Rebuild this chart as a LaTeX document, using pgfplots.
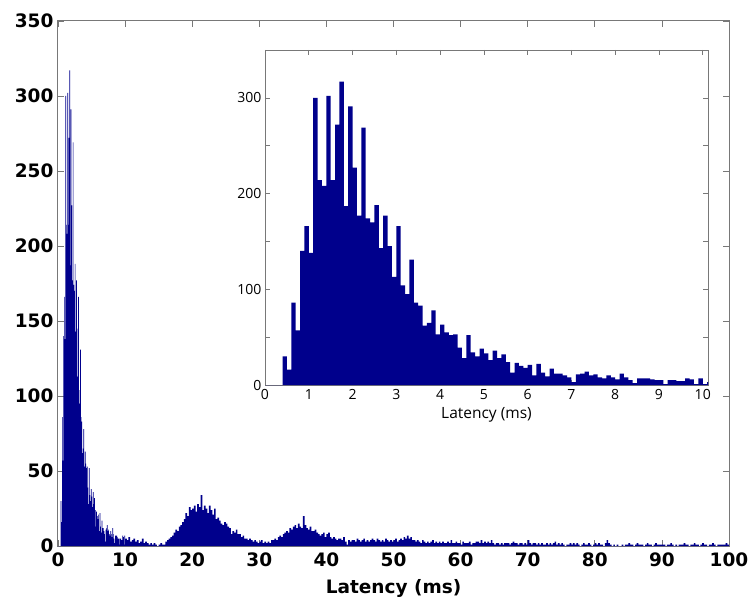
\documentclass[border=0pt]{standalone}
\usepackage{pgfplots}
\pgfplotsset{compat=1.18}
\usepackage{pgfplotstable}
\usepackage{fontspec}
\newfontfamily\mainf{DejaVu Sans}
\newfontfamily\insetf{Open Sans}
\definecolor{histblue}{RGB}{0,0,140}
\definecolor{axgray}{RGB}{120,120,120}

\pgfplotstableread{
x y
0.0 0
0.1 0
0.2 0
0.3 0
0.4 30
0.5 16
0.6 86
0.7 57
0.8 140
0.9 166
1.0 138
1.1 300
1.2 214
1.3 208
1.4 302
1.5 214
1.6 272
1.7 317
1.8 187
1.9 291
2.0 227
2.1 177
2.2 269
2.3 174
2.4 170
2.5 188
2.6 143
2.7 177
2.8 145
2.9 113
3.0 166
3.1 104
3.2 95
3.3 131
3.4 86
3.5 83
3.6 62
3.7 65
3.8 78
3.9 53
4.0 63
4.1 55
4.2 52
4.3 53
4.4 39
4.5 28
4.6 52
4.7 34
4.8 30
4.9 38
5.0 33
5.1 26
5.2 36
5.3 28
5.4 32
5.5 24
5.6 13
5.7 23
5.8 20
5.9 18
6.0 21
6.1 10
6.2 22
6.3 13
6.4 9
6.5 17
6.6 12
6.7 12
6.8 10
6.9 8
7.0 3
7.1 11
7.2 12
7.3 14
7.4 10
7.5 11
7.6 8
7.7 7
7.8 10
7.9 8
8.0 6
8.1 12
8.2 8
8.3 5
8.4 2
8.5 7
8.6 7
8.7 7
8.8 6
8.9 5
9.0 5
9.1 1
9.2 5
9.3 5
9.4 4
9.5 4
9.6 7
9.7 6
9.8 1
9.9 7
10.0 1
10.1 3
10.2 3
}\insetdata

\begin{document}
\begin{tikzpicture}
\path[use as bounding box] (-58pt,-57pt) rectangle (692pt,546pt);
\begin{axis}[
  at={(0pt,0pt)}, anchor=south west,
  scale only axis, width=671pt, height=525pt,
  xmin=0, xmax=100, ymin=0, ymax=350,
  xtick={0,10,...,100}, ytick={0,50,...,350},
  tick align=inside, major tick length=6pt,
  axis line style={axgray, line width=1pt},
  tick style={axgray, line width=0.8pt},
  /pgf/number format/assume math mode=true,
  ticklabel style={font=\mainf\bfseries\fontsize{18.5}{20}\selectfont, black},
  xticklabel style={yshift=-3pt},
  yticklabel style={xshift=-1pt},
  xlabel={Latency (ms)},
  xlabel style={font=\mainf\bfseries\fontsize{18.5}{20}\selectfont, yshift=-6pt},
  clip=true,
]
\addplot[const plot mark left, fill=histblue, draw=none, restrict x to domain=0:10] table {\insetdata} \closedcycle;
\addplot[const plot mark left, fill=histblue, draw=none] coordinates {
(10,5)(10.25,4)(10.5,6)(10.75,3)
(11,4)(11.25,5)(11.5,3)(11.75,4)
(12,2)(12.25,3)(12.5,5)(12.75,2)
(13,3)(13.25,2)(13.5,1)(13.75,2)
(14,1)(14.25,2)(14.5,1)(14.75,0)
(15,1)(15.25,2)(15.5,1)(15.75,1)
(16,3)(16.25,4)(16.5,5)(16.75,6)
(17,7)(17.25,9)(17.5,11)(17.75,10)
(18,13)(18.25,14)(18.5,16)(18.75,18)
(19,22)(19.25,20)(19.5,26)(19.75,24)
(20,25)(20.25,27)(20.5,23)(20.75,28)
(21,26)(21.25,34)(21.5,24)(21.75,27)
(22,25)(22.25,22)(22.5,27)(22.75,24)
(23,21)(23.25,25)(23.5,18)(23.75,19)
(24,17)(24.25,15)(24.5,14)(24.75,16)
(25,15)(25.25,13)(25.5,12)(25.75,8)
(26,10)(26.25,9)(26.5,11)(26.75,8)
(27,8)(27.25,6)(27.5,7)(27.75,5)
(28,5)(28.25,4)(28.5,5)(28.75,4)
(29,3)(29.25,4)(29.5,3)(29.75,2)
(30,3)(30.25,4)(30.5,2)(30.75,3)
(31,2)(31.25,3)(31.5,2)(31.75,4)
(32,4)(32.25,5)(32.5,4)(32.75,6)
(33,7)(33.25,6)(33.5,8)(33.75,9)
(34,10)(34.25,9)(34.5,12)(34.75,11)
(35,13)(35.25,14)(35.5,12)(35.75,15)
(36,13)(36.25,12)(36.5,20)(36.75,14)
(37,12)(37.25,11)(37.5,13)(37.75,10)
(38,10)(38.25,11)(38.5,9)(38.75,8)
(39,7)(39.25,8)(39.5,9)(39.75,6)
(40,8)(40.25,9)(40.5,6)(40.75,5)
(41,6)(41.25,5)(41.5,4)(41.75,5)
(42,5)(42.25,4)(42.5,6)(42.75,3)
(43,1)(43.25,4)(43.5,3)(43.75,4)
(44,4)(44.25,3)(44.5,5)(44.75,4)
(45,3)(45.25,4)(45.5,5)(45.75,3)
(46,4)(46.25,3)(46.5,4)(46.75,5)
(47,4)(47.25,3)(47.5,5)(47.75,4)
(48,3)(48.25,4)(48.5,3)(48.75,5)
(49,4)(49.25,3)(49.5,4)(49.75,3)
(50,4)(50.25,5)(50.5,3)(50.75,4)
(51,5)(51.25,4)(51.5,6)(51.75,5)
(52,7)(52.25,5)(52.5,6)(52.75,4)
(53,4)(53.25,3)(53.5,4)(53.75,3)
(54,2)(54.25,4)(54.5,3)(54.75,2)
(55,3)(55.25,2)(55.5,3)(55.75,4)
(56,2)(56.25,3)(56.5,2)(56.75,3)
(57,2)(57.25,3)(57.5,2)(57.75,2)
(58,3)(58.25,2)(58.5,4)(58.75,2)
(59,2)(59.25,3)(59.5,2)(59.75,2)
(60,1)(60.25,3)(60.5,2)(60.75,2)
(61,2)(61.25,3)(61.5,1)(61.75,2)
(62,2)(62.25,3)(62.5,3)(62.75,2)
(63,4)(63.25,2)(63.5,3)(63.75,2)
(64,3)(64.25,2)(64.5,4)(64.75,2)
(65,1)(65.25,2)(65.5,2)(65.75,1)
(66,2)(66.25,1)(66.5,2)(66.75,2)
(67,2)(67.25,1)(67.5,2)(67.75,3)
(68,2)(68.25,2)(68.5,1)(68.75,2)
(69,2)(69.25,1)(69.5,2)(69.75,1)
(70,4)(70.25,2)(70.5,1)(70.75,2)
(71,2)(71.25,1)(71.5,2)(71.75,1)
(72,2)(72.25,1)(72.5,1)(72.75,2)
(73,1)(73.25,2)(73.5,1)(73.75,2)
(74,3)(74.25,1)(74.5,2)(74.75,1)
(75,2)(75.25,1)(75.5,0)(75.75,1)
(76,1)(76.25,2)(76.5,1)(76.75,2)
(77,1)(77.25,2)(77.5,1)(77.75,0)
(78,1)(78.25,2)(78.5,1)(78.75,1)
(79,2)(79.25,1)(79.5,0)(79.75,1)
(80,2)(80.25,1)(80.5,2)(80.75,1)
(81,1)(81.25,0)(81.5,2)(81.75,4)
(82,2)(82.25,1)(82.5,0)(82.75,1)
(83,0)(83.25,1)(83.5,0)(83.75,0)
(84,1)(84.25,0)(84.5,1)(84.75,1)
(85,2)(85.25,1)(85.5,1)(85.75,0)
(86,1)(86.25,2)(86.5,1)(86.75,1)
(87,1)(87.25,0)(87.5,1)(87.75,2)
(88,1)(88.25,1)(88.5,0)(88.75,1)
(89,2)(89.25,1)(89.5,1)(89.75,1)
(90,1)(90.25,1)(90.5,0)(90.75,1)
(91,1)(91.25,2)(91.5,1)(91.75,0)
(92,1)(92.25,0)(92.5,1)(92.75,1)
(93,1)(93.25,2)(93.5,1)(93.75,1)
(94,0)(94.25,1)(94.5,1)(94.75,2)
(95,1)(95.25,1)(95.5,0)(95.75,1)
(96,2)(96.25,1)(96.5,1)(96.75,0)
(97,1)(97.25,1)(97.5,2)(97.75,1)
(98,0)(98.25,1)(98.5,1)(98.75,1)
(99,1)(99.25,1)(99.5,2)(99.75,1)
(100,1)
} \closedcycle;
\end{axis}

\begin{axis}[
  at={(207pt,161pt)}, anchor=south west,
  scale only axis, width=443pt, height=335pt,
  axis background/.style={fill=white},
  xmin=0, xmax=10.12, ymin=0, ymax=350,
  xtick={0,1,...,10}, ytick={0,50,...,350},
  yticklabels={0,,100,,200,,300,},
  tick align=inside, major tick length=5pt,
  axis line style={axgray, line width=0.8pt},
  tick style={axgray, line width=0.6pt},
  /pgf/number format/assume math mode=true,
  ticklabel style={font=\insetf\fontsize{14}{16}\selectfont, black},
  xticklabel style={yshift=-1pt},
  xlabel={Latency (ms)},
  xlabel style={font=\insetf\fontsize{15.5}{17}\selectfont, yshift=-1pt},
]
\addplot[const plot mark left, fill=histblue, draw=none] table {\insetdata} \closedcycle;
\end{axis}
\end{tikzpicture}
\end{document}
